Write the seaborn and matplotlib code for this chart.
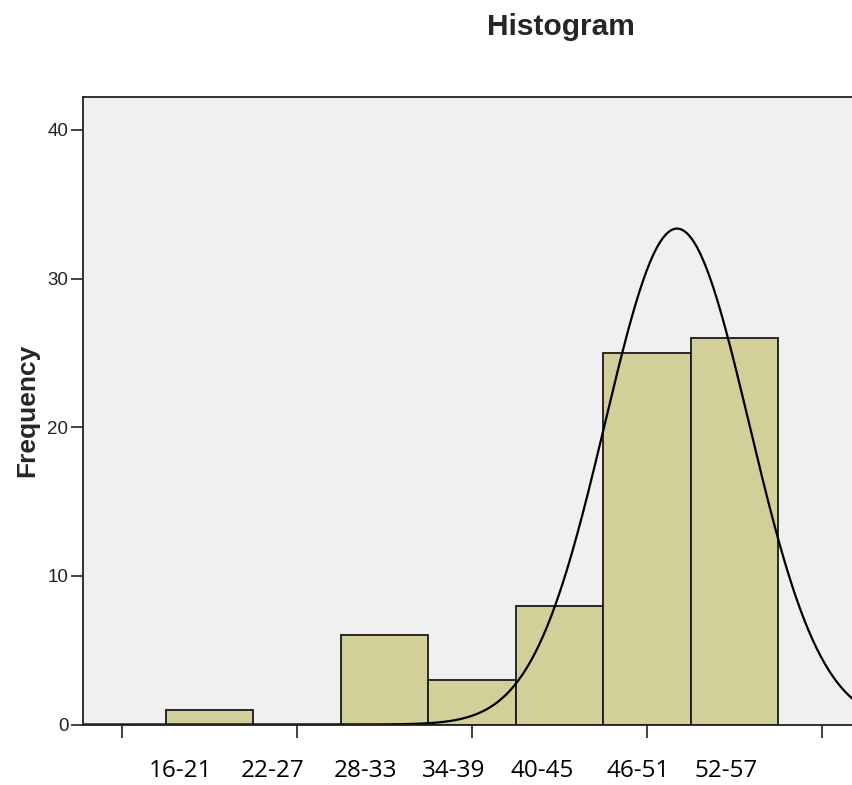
import numpy as np
import pandas as pd
import matplotlib
matplotlib.use("Agg")
import matplotlib.pyplot as plt
import matplotlib.transforms as mtransforms
import seaborn as sns

# ---- data ----
bin_labels = ["16-21", "22-27", "28-33", "34-39", "40-45", "46-51", "52-57"]
bin_starts = [16, 22, 28, 34, 40, 46, 52]
bin_width = 6
counts = [1, 0, 6, 3, 8, 25, 26]
curve_mean = 51.07
curve_sd = 4.95
y_ticks = [0, 10, 20, 30, 40]
x_ticks = [13, 25, 37, 49, 61]

# label anchor positions (layout only)
label_x = [17.03, 23.34, 29.66, 35.77, 41.80, 48.39, 54.43]

sns.set_theme(style="white")
plt.rcParams["font.family"] = ["Liberation Sans", "DejaVu Sans"]

W, H = 852, 785
fig = plt.figure(figsize=(W / 100, H / 100), dpi=100)
left_px, right_px, top_px, bot_px = 83, 870, 97, 724.5
ax = fig.add_axes([left_px / W, 1 - bot_px / H,
                   (right_px - left_px) / W, (bot_px - top_px) / H])
ax.set_facecolor("#F0F0F0")

df = pd.DataFrame({"center": [s + bin_width / 2 for s in bin_starts],
                   "count": counts})
edges = bin_starts + [bin_starts[-1] + bin_width]
sns.histplot(data=df, x="center", weights="count", bins=edges, ax=ax,
             color="#D3CF99", alpha=1, edgecolor="#1a1a1a", linewidth=1.3)

n_total = sum(counts)
xs = np.linspace(10, 66, 600)
ys = n_total * bin_width / (curve_sd * np.sqrt(2 * np.pi)) * np.exp(-0.5 * ((xs - curve_mean) / curve_sd) ** 2)
sns.lineplot(x=xs, y=ys, ax=ax, color="black", linewidth=1.6)

px_per_unit = (778 - 166) / 42.0
x_left = 16 - (166 - left_px) / px_per_unit
x_right = 16 + (right_px - 166) / px_per_unit
ypx = (724.5 - 130) / 40.0
ax.set_xlim(x_left, x_right)
ax.set_ylim(0, 40 + (130 - top_px) / ypx)

ax.set_xticks(x_ticks)
ax.set_xticklabels([])
ax.set_yticks(y_ticks)
ax.set_yticklabels([str(v) for v in y_ticks], fontsize=13.5, color="#222222")
ax.tick_params(axis="both", direction="out", length=9, width=1.2, color="#222222",
               left=True, bottom=True, pad=1.5)
ax.set_xlabel("")
ax.set_ylabel("Frequency", fontsize=19, fontweight="bold", labelpad=6)
for side in ["left", "top", "bottom"]:
    ax.spines[side].set_visible(True)
    ax.spines[side].set_color("#222222")
    ax.spines[side].set_linewidth(1.3)
ax.spines["right"].set_visible(False)

trans = mtransforms.blended_transform_factory(ax.transData, fig.transFigure)
for lx, lab in zip(label_x, bin_labels):
    ax.text(lx, 1 - 771 / H, lab, transform=trans, ha="center", va="center",
            fontsize=17.5, family=["Open Sans", "DejaVu Sans"], color="black")

fig.text(560.5 / W, 1 - 27 / H, "Histogram", ha="center", va="center",
         fontsize=21.5, fontweight="bold")

fig.savefig("out.png", dpi=100)
